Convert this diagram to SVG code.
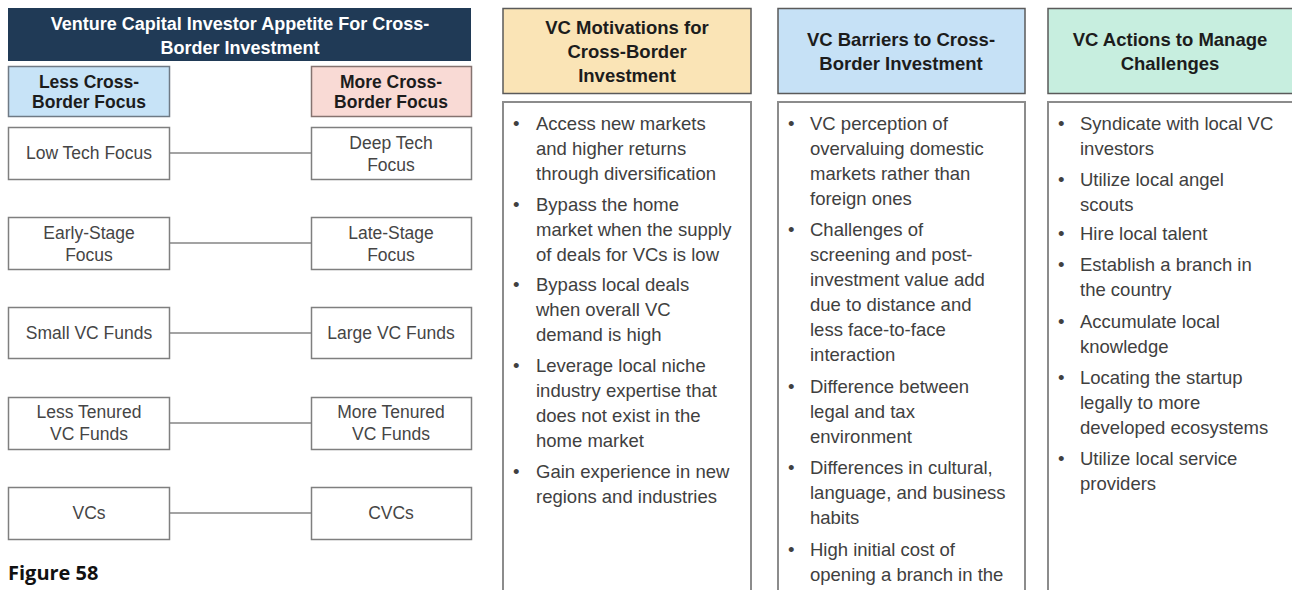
<svg xmlns="http://www.w3.org/2000/svg" width="1292" height="590" viewBox="0 0 1292 590">
<style>
text{font-family:"Liberation Sans",Arial,Helvetica,sans-serif}
.box{fill:#ffffff;stroke:#7f7f7f;stroke-width:1.5}
.lbl{font-size:17.5px;fill:#454545;text-anchor:middle}
.sub{font-size:17.5px;font-weight:bold;fill:#1c1c1c;text-anchor:middle}
.ttl{font-size:18px;font-weight:bold;fill:#ffffff;text-anchor:middle}
.hd{font-size:18.5px;font-weight:bold;fill:#1c1c1c;text-anchor:middle}
.hbox{stroke:#5a5a5a;stroke-width:1.5}
.col{fill:#ffffff;stroke:#8c8c8c;stroke-width:2}
.body{font-size:18.5px;fill:#404040}
.conn{stroke:#a3a3a3;stroke-width:2;fill:none}
.fig{font-family:"Open Sans","Liberation Sans",sans-serif;font-size:20px;font-weight:bold;fill:#111111}
</style>
<rect width="1292" height="590" fill="#ffffff"/>

<g id="title">
<rect x="8" y="8" width="463" height="53" fill="#203a56"/>
<text class="ttl"><tspan x="240" y="30">Venture Capital Investor Appetite  For Cross-</tspan><tspan x="240" y="54">Border Investment</tspan></text>
</g>
<g id="less-focus">
<rect x="8.5" y="66.5" width="161" height="50" fill="#c7e3f7" stroke="#6f7a85" stroke-width="1.5"/>
<text class="sub"><tspan x="89" y="88">Less Cross-</tspan><tspan x="89" y="108">Border Focus</tspan></text>
</g>
<g id="more-focus">
<rect x="311.5" y="66.5" width="160" height="50" fill="#f9dad5" stroke="#857370" stroke-width="1.5"/>
<text class="sub"><tspan x="391" y="88">More Cross-</tspan><tspan x="391" y="108">Border Focus</tspan></text>
</g>

<g id="connectors">
<line class="conn" x1="170" y1="153" x2="311" y2="153"/>
<line class="conn" x1="170" y1="243" x2="311" y2="243"/>
<line class="conn" x1="170" y1="333" x2="311" y2="333"/>
<line class="conn" x1="170" y1="423" x2="311" y2="423"/>
<line class="conn" x1="170" y1="513" x2="311" y2="513"/>
</g>

<g id="low-tech"><rect class="box" x="8.5" y="127.5" width="161" height="52"/><text class="lbl" x="89" y="159">Low Tech Focus</text></g>
<g id="deep-tech"><rect class="box" x="311.5" y="127.5" width="160" height="52"/><text class="lbl"><tspan x="391" y="149">Deep Tech</tspan><tspan x="391" y="171">Focus</tspan></text></g>
<g id="early-stage"><rect class="box" x="8.5" y="217.5" width="161" height="52"/><text class="lbl"><tspan x="89" y="239">Early-Stage</tspan><tspan x="89" y="261">Focus</tspan></text></g>
<g id="late-stage"><rect class="box" x="311.5" y="217.5" width="160" height="52"/><text class="lbl"><tspan x="391" y="239">Late-Stage</tspan><tspan x="391" y="261">Focus</tspan></text></g>
<g id="small-funds"><rect class="box" x="8.5" y="307.5" width="161" height="51"/><text class="lbl" x="89" y="339">Small VC Funds</text></g>
<g id="large-funds"><rect class="box" x="311.5" y="307.5" width="160" height="51"/><text class="lbl" x="391" y="339">Large VC Funds</text></g>
<g id="less-tenured"><rect class="box" x="8.5" y="397.5" width="161" height="52"/><text class="lbl"><tspan x="89" y="418">Less Tenured</tspan><tspan x="89" y="440">VC Funds</tspan></text></g>
<g id="more-tenured"><rect class="box" x="311.5" y="397.5" width="160" height="52"/><text class="lbl"><tspan x="391" y="418">More Tenured</tspan><tspan x="391" y="440">VC Funds</tspan></text></g>
<g id="vcs"><rect class="box" x="8.5" y="487.5" width="161" height="52"/><text class="lbl" x="89" y="519">VCs</text></g>
<g id="cvcs"><rect class="box" x="311.5" y="487.5" width="160" height="52"/><text class="lbl" x="391" y="519">CVCs</text></g>

<text class="fig" x="8" y="580">Figure 58</text>

<g id="motivations">
<rect class="hbox" x="503" y="8.5" width="248" height="85" fill="#fae4b6"/>
<text class="hd"><tspan x="627" y="34">VC Motivations for</tspan><tspan x="627" y="58">Cross-Border</tspan><tspan x="627" y="82">Investment</tspan></text>
<rect class="col" x="503" y="102" width="248" height="500"/>
<text class="body">
<tspan x="513" y="129.5">•</tspan><tspan x="536" y="129.5">Access new markets</tspan>
<tspan x="536" y="154.5">and higher returns</tspan>
<tspan x="536" y="179.5">through diversification</tspan>
<tspan x="513" y="210.5">•</tspan><tspan x="536" y="210.5">Bypass the home</tspan>
<tspan x="536" y="235.5">market when the supply</tspan>
<tspan x="536" y="260.5">of deals for VCs is low</tspan>
<tspan x="513" y="290.5">•</tspan><tspan x="536" y="290.5">Bypass local deals</tspan>
<tspan x="536" y="315.5">when overall VC</tspan>
<tspan x="536" y="340.5">demand is high</tspan>
<tspan x="513" y="371.5">•</tspan><tspan x="536" y="371.5">Leverage local niche</tspan>
<tspan x="536" y="396.5">industry expertise that</tspan>
<tspan x="536" y="421.5">does not exist in the</tspan>
<tspan x="536" y="446.5">home market</tspan>
<tspan x="513" y="477.5">•</tspan><tspan x="536" y="477.5">Gain experience in new</tspan>
<tspan x="536" y="502.5">regions and industries</tspan>
</text>
</g>

<g id="barriers">
<rect class="hbox" x="778" y="8.5" width="247" height="85" fill="#c6e1f6"/>
<text class="hd"><tspan x="901" y="46">VC Barriers to Cross-</tspan><tspan x="901" y="70">Border Investment</tspan></text>
<rect class="col" x="778" y="102" width="247" height="500"/>
<text class="body">
<tspan x="788" y="129.5">•</tspan><tspan x="810" y="129.5">VC perception of</tspan>
<tspan x="810" y="154.5">overvaluing domestic</tspan>
<tspan x="810" y="179.5">markets rather than</tspan>
<tspan x="810" y="204.5">foreign ones</tspan>
<tspan x="788" y="235.5">•</tspan><tspan x="810" y="235.5">Challenges of</tspan>
<tspan x="810" y="260.5">screening and post-</tspan>
<tspan x="810" y="285.5">investment value add</tspan>
<tspan x="810" y="310.5">due to distance and</tspan>
<tspan x="810" y="335.5">less face-to-face</tspan>
<tspan x="810" y="360.5">interaction</tspan>
<tspan x="788" y="392.5">•</tspan><tspan x="810" y="392.5">Difference between</tspan>
<tspan x="810" y="417.5">legal and tax</tspan>
<tspan x="810" y="442.5">environment</tspan>
<tspan x="788" y="473.5">•</tspan><tspan x="810" y="473.5">Differences in cultural,</tspan>
<tspan x="810" y="498.5">language, and business</tspan>
<tspan x="810" y="523.5">habits</tspan>
<tspan x="788" y="555.5">•</tspan><tspan x="810" y="555.5">High initial cost of</tspan>
<tspan x="810" y="580.5">opening a branch in the</tspan>
</text>
</g>

<g id="actions">
<rect class="hbox" x="1048" y="8.5" width="260" height="85" fill="#c7eedf"/>
<text class="hd"><tspan x="1170" y="46">VC Actions to Manage</tspan><tspan x="1170" y="70">Challenges</tspan></text>
<rect class="col" x="1048" y="102" width="260" height="500"/>
<text class="body">
<tspan x="1058" y="129.5">•</tspan><tspan x="1080" y="129.5">Syndicate with local VC</tspan>
<tspan x="1080" y="154.5">investors</tspan>
<tspan x="1058" y="185.5">•</tspan><tspan x="1080" y="185.5">Utilize local angel</tspan>
<tspan x="1080" y="210.5">scouts</tspan>
<tspan x="1058" y="239.5">•</tspan><tspan x="1080" y="239.5">Hire local talent</tspan>
<tspan x="1058" y="270.5">•</tspan><tspan x="1080" y="270.5">Establish a branch in</tspan>
<tspan x="1080" y="295.5">the country</tspan>
<tspan x="1058" y="327.5">•</tspan><tspan x="1080" y="327.5">Accumulate local</tspan>
<tspan x="1080" y="352.5">knowledge</tspan>
<tspan x="1058" y="383.5">•</tspan><tspan x="1080" y="383.5">Locating the startup</tspan>
<tspan x="1080" y="408.5">legally to more</tspan>
<tspan x="1080" y="433.5">developed ecosystems</tspan>
<tspan x="1058" y="464.5">•</tspan><tspan x="1080" y="464.5">Utilize local service</tspan>
<tspan x="1080" y="489.5">providers</tspan>
</text>
</g>
</svg>
